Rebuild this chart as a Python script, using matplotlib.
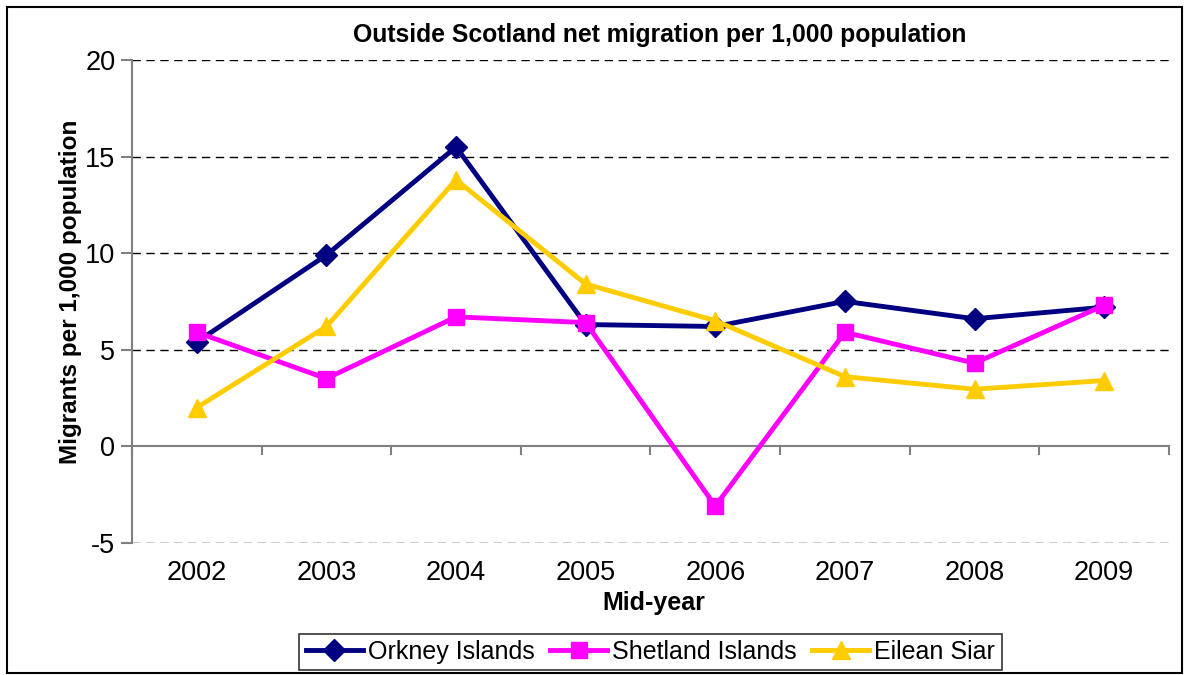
import numpy as np
import matplotlib
matplotlib.use("Agg")
import matplotlib.pyplot as plt
from matplotlib.patches import Rectangle

plt.rcParams['font.family'] = ['Liberation Sans', 'DejaVu Sans']

# Data
years = ['2002', '2003', '2004', '2005', '2006', '2007', '2008', '2009']
orkney = [5.4, 9.9, 15.5, 6.3, 6.2, 7.5, 6.6, 7.2]
shetland = [5.9, 3.5, 6.7, 6.4, -3.1, 5.9, 4.3, 7.3]
eilean_siar = [2.0, 6.2, 13.8, 8.4, 6.5, 3.6, 2.95, 3.4]
y_ticks = [-5, 0, 5, 10, 15, 20]

fig = plt.figure(figsize=(11.87, 6.75), dpi=100)
ax = fig.add_axes([0.1112, 0.196, 0.8736, 0.715])

x = np.arange(len(years))
ax.plot(x, orkney, color='#000080', lw=3.5, marker='D', ms=11, label='Orkney Islands')
ax.plot(x, shetland, color='#FF00FF', lw=3.5, marker='s', ms=12, label='Shetland Islands')
ax.plot(x, eilean_siar, color='#FFCC00', lw=3.5, marker='^', ms=13, label='Eilean Siar')

ax.set_xlim(-0.5, len(years) - 0.5)
ax.set_ylim(-5, 20)
ax.set_yticks(y_ticks)
ax.set_yticklabels([str(v) for v in y_ticks], fontsize=19.5)

# dashed gridlines except at zero
for v in y_ticks:
    if v != 0:
        ax.axhline(v, color='black', lw=1, ls=(0, (6, 4)), zorder=0)
ax.axhline(0, color='#808080', lw=1.5, zorder=1)

# category labels below the plot, ticks on the zero line between categories
ax.set_xticks([])
for i, yr in enumerate(years):
    ax.text(i, -5.9, yr, fontsize=19.5, ha='center', va='top', clip_on=False)
for b in np.arange(-0.5, len(years), 1.0):
    ax.plot([b, b], [0, -0.4], color='#808080', lw=1.5, clip_on=False)

for s in ['top', 'right', 'bottom']:
    ax.spines[s].set_visible(False)
ax.spines['left'].set_color('#808080')
ax.spines['left'].set_linewidth(1.5)
ax.tick_params(axis='y', length=8, width=1.5, color='#808080', pad=4)

fig.text(0.556, 0.948, 'Outside Scotland net migration per 1,000 population',
         fontsize=17.8, fontweight='bold', ha='center', va='center')
fig.text(0.551, 0.107, 'Mid-year', fontsize=18, fontweight='bold', ha='center', va='center')
fig.text(0.059, 0.567, 'Migrants per 1,000 population', fontsize=17.5, fontweight='bold',
         rotation=90, ha='center', va='center')

leg = ax.legend(loc='center', bbox_to_anchor=(0.5, -0.226), ncol=3, fontsize=18,
                frameon=True, fancybox=False, edgecolor='black', handlelength=2.3,
                handletextpad=0.2, columnspacing=0.6, borderpad=0.25, borderaxespad=0)
leg.get_frame().set_linewidth(1.2)

fig.patches.append(Rectangle((0.006, 0.003), 0.99, 0.987, transform=fig.transFigure,
                             fill=False, edgecolor='black', lw=1.5))

fig.savefig('out.png', dpi=100)
